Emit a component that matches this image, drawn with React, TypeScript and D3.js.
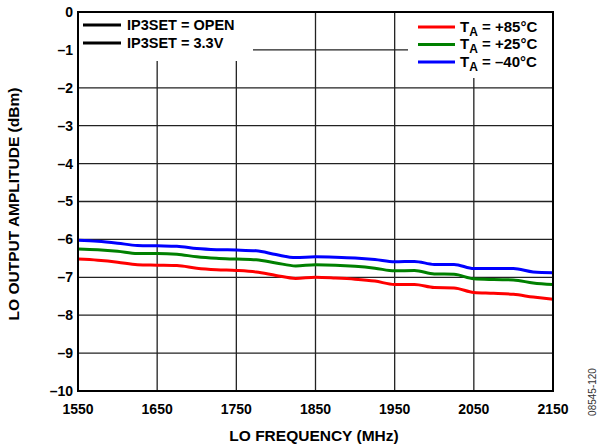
import React from "react";
import * as d3 from "d3";

const freqs = [1550,1575,1600,1625,1650,1675,1700,1725,1750,1775,1800,1825,1850,1875,1900,1925,1950,1975,2000,2025,2050,2075,2100,2125,2150];
const t85 = [-6.52,-6.55,-6.6,-6.67,-6.68,-6.69,-6.76,-6.8,-6.82,-6.86,-6.95,-7.03,-7.0,-7.02,-7.05,-7.1,-7.19,-7.19,-7.27,-7.28,-7.4,-7.42,-7.45,-7.52,-7.58];
const t25 = [-6.25,-6.27,-6.31,-6.37,-6.37,-6.39,-6.46,-6.5,-6.52,-6.54,-6.62,-6.7,-6.67,-6.68,-6.71,-6.76,-6.83,-6.82,-6.91,-6.92,-7.04,-7.06,-7.07,-7.15,-7.19];
const tm40 = [-6.02,-6.05,-6.1,-6.16,-6.17,-6.18,-6.24,-6.27,-6.28,-6.3,-6.4,-6.48,-6.46,-6.47,-6.49,-6.53,-6.59,-6.58,-6.66,-6.66,-6.77,-6.77,-6.77,-6.86,-6.88];
const xTicks = [1550,1650,1750,1850,1950,2050,2150];
const yTicks = [0,-1,-2,-3,-4,-5,-6,-7,-8,-9,-10];
const seriesNames = ["+85°C", "+25°C", "–40°C"];
const seriesColors = ["#ff0000", "#008000", "#0000ff"];

const FONT = "'Liberation Sans', Arial, Helvetica, sans-serif";

export default function App() {
  const left = 78, right = 553, top = 12, bottom = 391;
  const x = d3.scaleLinear().domain([1550, 2150]).range([left, right]);
  const y = d3.scaleLinear().domain([0, -10]).range([top, bottom]);
  const line = d3.line<number>()
    .x((_, i) => x(freqs[i]))
    .y((d) => y(d))
    .curve(d3.curveMonotoneX);
  const series = [t85, t25, tm40];
  const fmt = (v: number) => (v < 0 ? "–" + Math.abs(v) : String(v));

  return (
    <svg width={600} height={448} style={{ position: "absolute", left: 0, top: 0 }}>
      <rect width={600} height={448} fill="#fff" />
      {xTicks.slice(1, -1).map((t) => (
        <line key={"gx" + t} x1={x(t)} x2={x(t)} y1={top} y2={bottom} stroke="#222" strokeWidth={1.3} />
      ))}
      {yTicks.slice(1, -1).map((t) => (
        <line key={"gy" + t} x1={left} x2={right} y1={y(t)} y2={y(t)} stroke="#222" strokeWidth={1.3} />
      ))}
      <rect x={left + 1} y={top + 1} width={252 - left} height={60 - top} fill="#fff" />
      <rect x={408} y={top + 1} width={right - 408 - 1} height={77 - top} fill="#fff" />
      {series.map((s, i) => (
        <path key={"s" + i} d={line(s) || ""} fill="none" stroke={seriesColors[i]} strokeWidth={3} strokeLinejoin="round" />
      ))}
      <rect x={left} y={top} width={right - left} height={bottom - top} fill="none" stroke="#000" strokeWidth={2} />
      {yTicks.map((t) => (
        <text key={"yt" + t} x={left - 5} y={y(t)} dy="0.35em" textAnchor="end" fontFamily={FONT} fontWeight="bold" fontSize={14}>
          {fmt(t)}
        </text>
      ))}
      {xTicks.map((t) => (
        <text key={"xt" + t} x={x(t)} y={414} textAnchor="middle" fontFamily={FONT} fontWeight="bold" fontSize={14}>
          {t}
        </text>
      ))}
      <text x={314} y={441} textAnchor="middle" fontFamily={FONT} fontWeight="bold" fontSize={15.5}>
        LO FREQUENCY (MHz)
      </text>
      <text transform={`translate(19,204) rotate(-90)`} textAnchor="middle" fontFamily={FONT} fontWeight="bold" fontSize={15.5}>
        LO OUTPUT AMPLITUDE (dBm)
      </text>
      <text transform="translate(596,392) rotate(-90)" textAnchor="middle" fontFamily={FONT} fontSize={10} fill="#333">
        08545-120
      </text>
      {["IP3SET = OPEN", "IP3SET = 3.3V"].map((lab, i) => (
        <g key={"ll" + i}>
          <line x1={83} x2={121} y1={25 + i * 18} y2={25 + i * 18} stroke="#000" strokeWidth={3} />
          <text x={127} y={25 + i * 18} dy="0.36em" fontFamily={FONT} fontWeight="bold" fontSize={14.5}>
            {lab}
          </text>
        </g>
      ))}
      {seriesNames.map((n, i) => (
        <g key={"rl" + i}>
          <line x1={418} x2={455} y1={27 + i * 17.5} y2={27 + i * 17.5} stroke={seriesColors[i]} strokeWidth={3} />
          <text x={460} y={27 + i * 17.5} dy="0.3em" fontFamily={FONT} fontWeight="bold" fontSize={15}>
            T<tspan fontSize={12} dy={4}>A</tspan>
            <tspan dy={-4}> = {n}</tspan>
          </text>
        </g>
      ))}
    </svg>
  );
}
